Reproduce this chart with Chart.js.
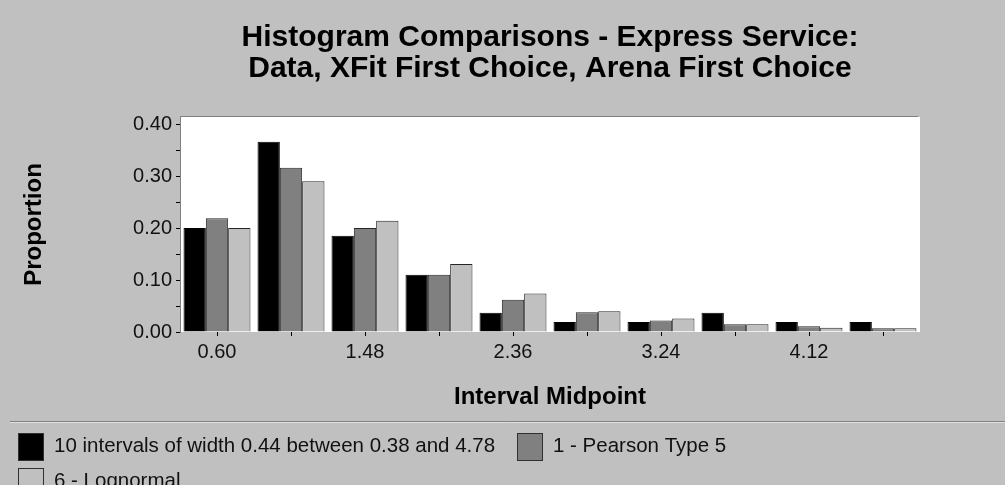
<!DOCTYPE html>
<html>
<head>
<meta charset="utf-8">
<script src="https://cdn.jsdelivr.net/npm/chart.js@4/dist/chart.umd.min.js"></script>
<style>
  html, body { margin: 0; padding: 0; background: #c0c0c0; overflow: hidden; width: 1005px; height: 485px; }
  #wrap { position: relative; width: 1005px; height: 485px; }
</style>
</head>
<body>
<div id="wrap"><canvas id="c" width="1005" height="485"></canvas></div>
<script>
// ---- Data ----
const categories = ['0.60', '1.04', '1.48', '1.92', '2.36', '2.80', '3.24', '3.68', '4.12', '4.56'];
const dataValues = [0.200, 0.366, 0.185, 0.110, 0.037, 0.019, 0.019, 0.037, 0.019, 0.019];
const pearsonValues = [0.219, 0.316, 0.200, 0.110, 0.062, 0.038, 0.022, 0.015, 0.011, 0.007];
const lognormalValues = [0.200, 0.290, 0.214, 0.131, 0.074, 0.040, 0.026, 0.015, 0.008, 0.007];
const yTickValues = [0, 0.05, 0.10, 0.15, 0.20, 0.25, 0.30, 0.35, 0.40];
const seriesLabels = ['10 intervals of width 0.44 between 0.38 and 4.78', '1 - Pearson Type 5', '6 - Lognormal'];
const titleLines = ['Histogram Comparisons - Express Service:', 'Data, XFit First Choice, Arena First Choice'];

const FONT = "'Liberation Sans', Arial, Helvetica, sans-serif";

const plotBg = {
  id: 'plotBg',
  beforeDraw(chart) {
    const {ctx, chartArea: a} = chart;
    ctx.save();
    ctx.fillStyle = '#ffffff';
    ctx.fillRect(a.left, a.top, a.right - a.left, a.bottom - a.top);
    ctx.strokeStyle = '#808080';
    ctx.lineWidth = 1;
    ctx.beginPath();
    ctx.moveTo(a.left, a.top - 0.5);
    ctx.lineTo(a.right - 2, a.top - 0.5);
    ctx.stroke();
    // separator line above legend
    ctx.beginPath();
    ctx.moveTo(10, 421.5);
    ctx.lineTo(chart.width, 421.5);
    ctx.stroke();
    ctx.strokeStyle = '#e0e0e0';
    ctx.beginPath();
    ctx.moveTo(10, 422.5);
    ctx.lineTo(chart.width, 422.5);
    ctx.stroke();
    ctx.restore();
  }
};

const customLegend = {
  id: 'customLegend',
  afterDraw(chart) {
    const {ctx} = chart;
    const items = [
      {x: 18, y: 433},
      {x: 517, y: 433},
      {x: 18, y: 468}
    ];
    ctx.save();
    ctx.font = '20.5px ' + FONT;
    ctx.textBaseline = 'middle';
    ctx.textAlign = 'left';
    chart.data.datasets.forEach((ds, i) => {
      const p = items[i];
      ctx.fillStyle = ds.backgroundColor;
      ctx.fillRect(p.x, p.y, 26, 28);
      ctx.strokeStyle = '#303030';
      ctx.lineWidth = 1;
      ctx.strokeRect(p.x + 0.5, p.y + 0.5, 25, 27);
      ctx.fillStyle = '#111111';
      ctx.fillText(ds.label, p.x + 36, p.y + 13);
    });
    ctx.restore();
  }
};

new Chart(document.getElementById('c'), {
  type: 'bar',
  data: {
    labels: categories,
    datasets: [
      { label: seriesLabels[0], data: dataValues, backgroundColor: '#000000', borderColor: '#000000', borderWidth: 1 },
      { label: seriesLabels[1], data: pearsonValues, backgroundColor: '#808080', borderColor: '#262626', borderWidth: 1 },
      { label: seriesLabels[2], data: lognormalValues, backgroundColor: '#c0c0c0', borderColor: '#262626', borderWidth: 1 }
    ]
  },
  options: {
    responsive: false,
    animation: false,
    devicePixelRatio: 1,
    layout: { padding: { left: 20, right: 85, top: 0, bottom: 73 } },
    datasets: { bar: { categoryPercentage: 0.905, barPercentage: 1.0 } },
    plugins: {
      legend: { display: false },
      tooltip: { enabled: false },
      title: {
        display: true,
        fullSize: false,
        text: titleLines,
        color: '#000000',
        font: { family: FONT, size: 30, weight: 'bold', lineHeight: 31 / 30 },
        padding: { top: 22, bottom: 33 }
      }
    },
    scales: {
      x: {
        grid: { display: true, drawOnChartArea: false, drawTicks: true, tickLength: 4, color: '#000000', offset: false },
        border: { display: false },
        ticks: {
          autoSkip: false, maxRotation: 0, minRotation: 0, padding: 4,
          color: '#111111', font: { family: FONT, size: 20 },
          callback: function(v, i) { return i % 2 === 0 ? categories[i] : ''; }
        },
        title: {
          display: true, text: 'Interval Midpoint', color: '#000000',
          font: { family: FONT, size: 24, weight: 'bold', lineHeight: 1.2 },
          padding: { top: 0, bottom: 0 }
        },
        afterFit(scale) { scale.height = 80; }
      },
      y: {
        min: 0, max: 0.4135,
        grid: { display: true, drawOnChartArea: false, drawTicks: true, tickLength: 4, color: '#000000' },
        border: { display: true, color: '#808080', width: 1 },
        afterBuildTicks(scale) { scale.ticks = yTickValues.map(v => ({ value: v })); },
        ticks: {
          autoSkip: false,
          padding: 4, color: '#111111', font: { family: FONT, size: 20 },
          callback: function(v) { return Math.round(v * 100) % 10 === 0 ? Number(v).toFixed(2) : ''; }
        },
        title: {
          display: true, text: 'Proportion', color: '#000000',
          font: { family: FONT, size: 24, weight: 'bold', lineHeight: 1.2 },
          padding: { top: 0, bottom: 0 }
        },
        afterFit(scale) { scale.width = 160; }
      }
    }
  },
  plugins: [plotBg, customLegend]
});
</script>
</body>
</html>
